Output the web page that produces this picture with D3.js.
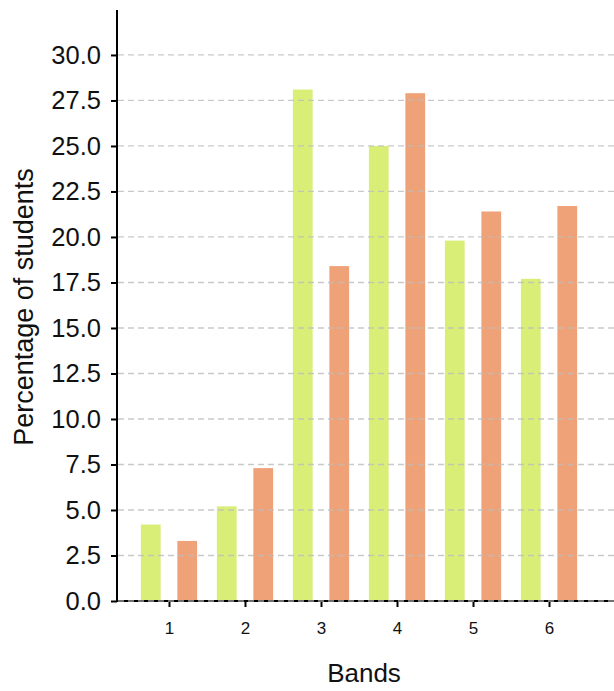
<!DOCTYPE html>
<html>
<head>
<meta charset="utf-8">
<script src="https://cdn.jsdelivr.net/npm/d3@7"></script>
<style>
  body { margin: 0; background: #fff; }
  text { font-family: "Liberation Sans", Arial, sans-serif; fill: #111; }
</style>
</head>
<body>
<svg id="chart" width="614" height="691"></svg>
<script>
// Data
const bands = [1, 2, 3, 4, 5, 6];
const seriesA = [4.2, 5.2, 28.1, 25.0, 19.8, 17.7];
const seriesB = [3.3, 7.3, 18.4, 27.9, 21.4, 21.7];
const yTicks = [0, 2.5, 5, 7.5, 10, 12.5, 15, 17.5, 20, 22.5, 25, 27.5, 30];

const svg = d3.select('#chart');
const margin = { left: 117, right: 0, top: 10, bottom: 90 };
const width = 614, height = 691;

// x is continuous like the original, band 1 sits at ~169px
const x = d3.scaleLinear().domain([0.316, 6.855]).range([margin.left, width]);
const y = d3.scaleLinear().domain([0, 32.47]).range([601, margin.top]);

const barW = x(1.26) - x(1);
const offset = x(1.24) - x(1);

// bars
svg.append('g').selectAll('rect.a')
    .data(bands)
    .enter().append('rect')
    .attr('x', (d, i) => x(d) - offset - barW / 2)
    .attr('y', (d, i) => y(seriesA[i]))
    .attr('width', barW)
    .attr('height', (d, i) => y(0) - y(seriesA[i]))
    .attr('fill', '#d8ee77');

svg.append('g').selectAll('rect.b')
    .data(bands)
    .enter().append('rect')
    .attr('x', (d, i) => x(d) + offset - barW / 2)
    .attr('y', (d, i) => y(seriesB[i]))
    .attr('width', barW)
    .attr('height', (d, i) => y(0) - y(seriesB[i]))
    .attr('fill', '#efa278');

// y axis
const yAxis = svg.append('g')
    .attr('transform', `translate(${margin.left},0)`)
    .call(d3.axisLeft(y).tickValues(yTicks).tickFormat(d3.format('.1f')).tickSize(6).tickPadding(10));
yAxis.select('.domain').attr('d', `M0,${margin.top}V${y(0)}`).attr('stroke', '#000').attr('stroke-width', 2);
yAxis.selectAll('.tick line').attr('stroke', '#000').attr('stroke-width', 2);
yAxis.selectAll('.tick text').style('font-size', '25.5px').attr('fill', '#111');

// x axis
const xAxis = svg.append('g')
    .attr('transform', `translate(0,${y(0)})`)
    .call(d3.axisBottom(x).tickValues(bands).tickFormat(d3.format('d')).tickSize(6).tickPadding(15));
xAxis.select('.domain').attr('d', `M${margin.left},0H${width}`).attr('stroke', '#000').attr('stroke-width', 2);
xAxis.selectAll('.tick line').attr('stroke', '#000').attr('stroke-width', 2);
xAxis.selectAll('.tick text').style('font-size', '17px').attr('fill', '#111');

// dashed grid on top
svg.append('g').selectAll('line')
    .data(yTicks)
    .enter().append('line')
    .attr('x1', margin.left + 1)
    .attr('x2', width)
    .attr('y1', d => y(d))
    .attr('y2', d => y(d))
    .attr('stroke', '#bbb')
    .attr('stroke-opacity', 0.8)
    .attr('stroke-width', 1.3)
    .attr('stroke-dasharray', '6,4');

// axis titles
svg.append('text')
    .attr('x', 364)
    .attr('y', 682)
    .attr('text-anchor', 'middle')
    .style('font-size', '26px')
    .text('Bands');

svg.append('text')
    .attr('transform', `translate(33,307) rotate(-90)`)
    .attr('text-anchor', 'middle')
    .style('font-size', '27px')
    .text('Percentage of students');
</script>
</body>
</html>
